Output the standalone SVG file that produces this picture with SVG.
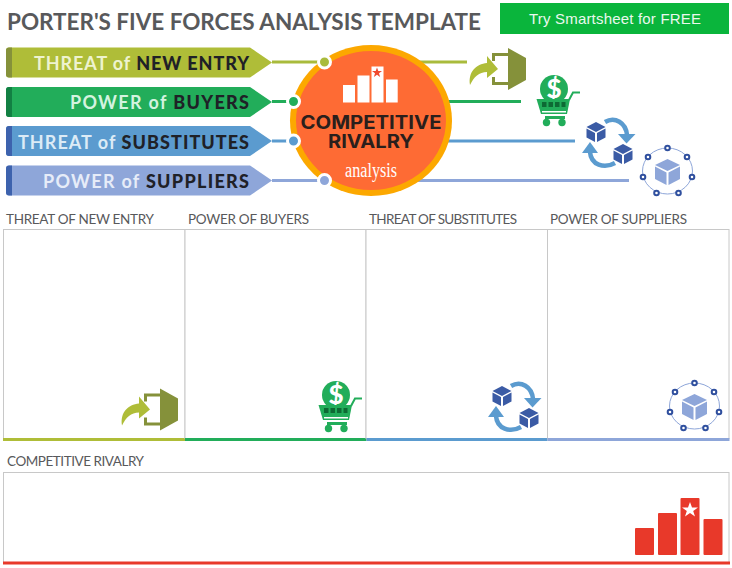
<svg xmlns="http://www.w3.org/2000/svg" width="732" height="568" viewBox="0 0 732 568">
<style>
text{font-family:"Lato","Liberation Sans",sans-serif}
.title{font-size:22.500px;font-weight:700;fill:#58595b}
.ban{font-size:18px;font-weight:700;text-anchor:end}
.d{fill:#1f2127;font-weight:900}
.hd{font-size:13.500px;fill:#58595b}
.box{fill:#fff;stroke:#c8c8c8;stroke-width:1}
.cl{fill:none;stroke-width:3}
.riv{font-family:"Inter","Liberation Sans",sans-serif;font-size:19px;font-weight:700;fill:#2a1f1c;text-anchor:middle}
</style>
<defs>
<path id="banner" d="M9 0H250L272 15L250 30H9Q6 30 6 27V3Q6 0 9 0Z"/>
<g id="door">
<path d="M-16 -16H1V-13H-13V-8H-16Z M-16 8H-13V13H1V16H-16Z" fill="#85913a"/>
<path d="M0 -21L18 -11V11L0 21Z" fill="#85913a"/>
<path d="M-38 16C-40 3 -32 -5 -21 -6V-13L-10 0L-21 9V3C-29 3 -34 8 -38 16Z" fill="#afbd38"/>
</g>
<g id="cart">
<circle cx="0" cy="0" r="14" fill="#22ad5a"/>
<text x="0" y="9" font-size="26" font-weight="900" fill="#fff" text-anchor="middle">$</text>
<path d="M15 11L19 3.500H26" fill="none" stroke="#22ad5a" stroke-width="2"/>
<path d="M-17.500 10H16L13 25H-13Z" fill="#22ad5a"/>
<path d="M-12 13h4.500v5h-4.500z M-5.500 13h4.500v5h-4.500z M1 13h4.500v5h-4.500z M7.500 13h4v5h-4z" fill="#0d6a34"/>
<rect x="-12" y="22" width="24" height="1.500" fill="#fff"/>
<rect x="-9" y="27" width="20" height="3" fill="#22ad5a"/>
<circle cx="-7.500" cy="33.500" r="3.700" fill="#22ad5a"/><circle cx="8" cy="33.500" r="3.700" fill="#22ad5a"/>
</g>
<g id="cube">
<path d="M0 -10L9.500 -5L0 0L-9.500 -5Z" fill="#3b5ba5"/>
<path d="M-9.500 -3.500L-1 1V10L-9.500 5.500Z" fill="#3b5ba5"/>
<path d="M9.500 -3.500L1 1V10L9.500 5.500Z" fill="#3b5ba5"/>
</g>
<g id="cycle">
<use href="#cube" x="-13" y="-11"/>
<use href="#cube" x="14" y="11"/>
<path d="M-4 -21C6 -27 17 -20 18 -8" fill="none" stroke="#5b9bcf" stroke-width="4.500"/>
<path d="M9 -9H26.500L17.500 0.500Z" fill="#5b9bcf"/>
<path d="M6 20C-5 26 -18 22 -19 9" fill="none" stroke="#5b9bcf" stroke-width="4.500"/>
<path d="M-27 10L-19 -1L-11 10Z" fill="#5b9bcf"/>
</g>
<g id="ring">
<ellipse cx="0" cy="0" rx="25" ry="23" fill="none" stroke="#8ea6d9" stroke-width="1"/>
<path d="M0 -12L12.500 -6L0 0L-12.500 -6Z" fill="#8ea6d9"/>
<path d="M-12.500 -4.500L-1 1.500V14L-12.500 8Z" fill="#8ea6d9"/>
<path d="M12.500 -4.500L1 1.500V14L12.500 8Z" fill="#8ea6d9"/>
<g fill="#fff" stroke="#2f4f9e" stroke-width="2">
<circle cx="0" cy="-23" r="2.300"/><circle cx="-19.500" cy="-14" r="2.300"/><circle cx="19.500" cy="-14" r="2.300"/>
<circle cx="-24.500" cy="6" r="2.300"/><circle cx="24.500" cy="6" r="2.300"/>
<circle cx="-11" cy="22" r="2.300"/><circle cx="11" cy="22" r="2.300"/>
</g>
</g>
</defs>

<text class="title" x="7" y="30" textLength="474" lengthAdjust="spacing">PORTER'S FIVE FORCES ANALYSIS TEMPLATE</text>
<g id="cta">
<rect x="500" y="3" width="229" height="31" fill="#0ab53c"/>
<text x="615" y="24" font-size="15" text-anchor="middle" fill="#eaf8ee" textLength="172" style="font-family:'Liberation Sans',Arial,sans-serif">Try Smartsheet for FREE</text>
</g>

<g id="connectors">
<path class="cl" stroke="#a9bb3c" d="M272 62H467"/>
<path class="cl" stroke="#22ad5a" d="M272 101.500H521"/>
<path class="cl" stroke="#5b9bcf" d="M272 141H575"/>
<path class="cl" stroke="#8ea6d9" d="M272 180.500H629"/>
</g>

<g id="n-entry">
<use href="#banner" y="47.500" fill="#afbd38"/>
<path d="M9 47.500H12V77.500H9Q6 77.500 6 74.500V50.500Q6 47.500 9 47.500Z" fill="#85913a"/>
<text class="ban" x="249" y="70" textLength="215"><tspan fill="#eef3cf">THREAT of </tspan><tspan class="d">NEW ENTRY</tspan></text>
</g>
<g id="n-buyers">
<use href="#banner" y="87" fill="#22ad5a"/>
<path d="M9 87H12V117H9Q6 117 6 114V90Q6 87 9 87Z" fill="#128043"/>
<text class="ban" x="249" y="109" textLength="179"><tspan fill="#d3f3df">POWER of </tspan><tspan class="d">BUYERS</tspan></text>
</g>
<g id="n-subs">
<use href="#banner" y="126" fill="#5b9bcf"/>
<path d="M9 126H12V156H9Q6 156 6 153V129Q6 126 9 126Z" fill="#3d62ad"/>
<text class="ban" x="249" y="148.500" textLength="231"><tspan fill="#dcebf6">THREAT of </tspan><tspan class="d">SUBSTITUTES</tspan></text>
</g>
<g id="n-supp">
<use href="#banner" y="165.500" fill="#8ea6d9"/>
<path d="M9 165.500H12V195.500H9Q6 195.500 6 192.500V168.500Q6 165.500 9 165.500Z" fill="#3d62ad"/>
<text class="ban" x="249" y="188" textLength="206"><tspan fill="#e6ecf8">POWER of </tspan><tspan class="d">SUPPLIERS</tspan></text>
</g>

<g id="rivalry">
<ellipse cx="371" cy="120.500" rx="81" ry="75.500" fill="#fca800"/>
<ellipse cx="371" cy="120.500" rx="75" ry="69.500" fill="#fe6b34"/>
<g fill="#fff">
<rect x="343" y="85" width="12" height="17.500"/>
<rect x="357.500" y="75.500" width="12" height="27"/>
<rect x="371.500" y="66.500" width="12" height="36"/>
<rect x="386" y="79.500" width="11.700" height="23"/>
</g>
<polygon points="377,67.500 378.300,71 382,71 379,73.300 380.100,77 377,74.800 373.900,77 375,73.300 372,71 375.700,71" fill="#f0492e"/>
<text class="riv" x="371" y="129" textLength="141" lengthAdjust="spacingAndGlyphs">COMPETITIVE</text>
<text class="riv" x="371" y="148" textLength="86" lengthAdjust="spacingAndGlyphs">RIVALRY</text>
<text x="371" y="176.500" font-size="20" fill="#fff" text-anchor="middle" textLength="52" lengthAdjust="spacingAndGlyphs" style="font-family:'Liberation Serif',serif">analysis</text>
<g stroke="#fff" stroke-width="3">
<circle cx="324.500" cy="62" r="6" fill="#a9bb3c"/>
<circle cx="293.500" cy="101.500" r="6" fill="#22ad5a"/>
<circle cx="293.500" cy="141" r="6" fill="#5b9bcf"/>
<circle cx="324.500" cy="180.500" r="6" fill="#8ea6d9"/>
</g>
</g>

<use id="icon-entry-top" href="#door" x="508" y="69"/>
<use id="icon-cart-top" href="#cart" x="554" y="89"/>
<use id="icon-cycle-top" href="#cycle" x="609" y="143"/>
<use id="icon-ring-top" href="#ring" x="667.500" y="171"/>

<g id="headers">
<text class="hd" x="6" y="224" textLength="148">THREAT OF NEW ENTRY</text>
<text class="hd" x="188" y="224" textLength="121">POWER OF BUYERS</text>
<text class="hd" x="369" y="224" textLength="148">THREAT OF SUBSTITUTES</text>
<text class="hd" x="550" y="224" textLength="137">POWER OF SUPPLIERS</text>
<text class="hd" x="7" y="466" textLength="137">COMPETITIVE RIVALRY</text>
</g>

<g id="col-entry"><rect class="box" x="3.500" y="229.500" width="181.500" height="209"/><rect x="3" y="438" width="182" height="3" fill="#afbd38"/></g>
<g id="col-buyers"><rect class="box" x="185" y="229.500" width="181" height="209"/><rect x="185" y="438" width="181.500" height="3" fill="#22ad5a"/></g>
<g id="col-subs"><rect class="box" x="366" y="229.500" width="181.500" height="209"/><rect x="366.500" y="438" width="181" height="3" fill="#5b9bcf"/></g>
<g id="col-supp"><rect class="box" x="547.500" y="229.500" width="181.500" height="209"/><rect x="547.500" y="438" width="182" height="3" fill="#8ea6d9"/></g>

<use id="icon-entry" href="#door" x="160" y="409.500"/>
<use id="icon-cart" href="#cart" x="336" y="395"/>
<use id="icon-cycle" href="#cycle" x="515" y="407"/>
<use id="icon-ring" href="#ring" x="694.500" y="406"/>

<g id="col-rivalry">
<rect class="box" x="3.500" y="472.500" width="725.500" height="90"/>
<rect x="3" y="561.500" width="727" height="3" fill="#e8392a"/>
<g fill="#e8392a">
<rect x="635" y="528" width="19" height="27" rx="1"/>
<rect x="658" y="513" width="19" height="42" rx="1"/>
<rect x="680.500" y="498" width="19" height="57" rx="1"/>
<rect x="703.500" y="519" width="19" height="36" rx="1"/>
</g>
<polygon points="690,502 692,507.500 698,507.500 693.200,511 695,516.500 690,513 685,516.500 686.800,511 682,507.500 688,507.500" fill="#fff"/>
</g>
</svg>
